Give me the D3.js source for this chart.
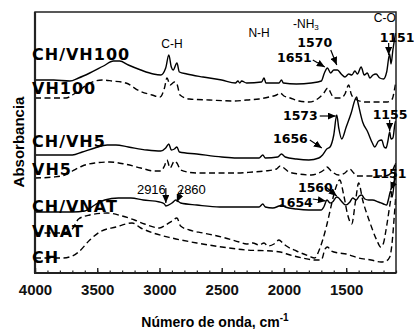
<!DOCTYPE html>
<html>
<head>
<meta charset="utf-8">
<script src="https://cdn.jsdelivr.net/npm/d3@7"></script>
<style>
  body { margin: 0; background: #fff; }
  svg { display: block; }
</style>
</head>
<body>
<svg width="414" height="329"></svg>
<script>
// wavenumber ticks (cm-1)
const majorTicks = [4000, 3500, 3000, 2500, 2000, 1500];
const minorTicks = d3.range(4000, 1099, -100);

const seriesNames = ['CH/VH100', 'VH100', 'CH/VH5', 'VH5', 'CH/VNAT', 'VNAT', 'CH'];
const seriesDashed = [false, true, false, true, false, true, true];

// spectra: [wavenumber, absorbance (arb. units, stacked)]
const chVh100 = [[4000,19.3],[3850,19.3],[3720,19.2],[3650,19.5],[3560,20.0],[3450,20.7],[3370,21.2],[3320,21.2],[3250,20.8],[3150,20.3],[3050,19.9],[2990,19.8],[2950,20.5],[2925,21.8],[2905,20.6],[2890,20.3],[2860,21.0],[2840,20.1],[2780,19.9],[2650,19.6],[2500,19.3],[2390,19.0],[2370,19.2],[2355,19.0],[2340,19.2],[2300,19.0],[2180,19.1],[2160,19.5],[2145,19.0],[2040,19.0],[2020,19.3],[2005,19.0],[1900,18.9],[1780,19.0],[1700,19.2],[1675,20.0],[1651,20.5],[1625,20.0],[1600,20.3],[1570,20.3],[1540,19.9],[1510,19.6],[1480,19.9],[1455,19.8],[1430,20.2],[1410,19.9],[1380,20.6],[1355,19.8],[1330,20.0],[1310,19.5],[1285,19.8],[1260,19.9],[1230,19.5],[1200,19.4],[1175,20.1],[1151,21.9],[1140,20.9],[1125,22.3],[1110,23.5],[1103,24.0]];
const vh100 = [[4000,17.5],[3750,17.5],[3700,17.8],[3640,18.3],[3560,19.0],[3460,19.3],[3380,19.2],[3270,19.0],[3160,18.2],[3060,17.8],[2995,17.6],[2960,18.5],[2940,19.5],[2915,18.8],[2880,19.1],[2860,18.9],[2835,17.8],[2760,17.4],[2600,17.3],[2400,17.2],[2300,17.3],[2200,17.4],[2120,17.6],[2060,17.8],[2030,18.0],[2000,17.7],[1950,17.5],[1880,17.2],[1800,17.1],[1720,17.5],[1680,18.0],[1648,18.5],[1620,17.9],[1600,17.5],[1540,17.5],[1510,17.9],[1480,18.8],[1460,17.9],[1440,17.5],[1350,17.1],[1250,17.1],[1170,17.1],[1130,17.4],[1110,18.5],[1103,19.0]];
const chVh5 = [[4000,11.8],[3800,11.8],[3700,11.8],[3620,12.1],[3520,12.5],[3420,12.8],[3350,12.8],[3250,12.6],[3100,12.3],[2990,12.2],[2950,12.5],[2925,12.9],[2905,12.3],[2880,12.4],[2860,12.6],[2840,12.1],[2700,11.9],[2500,11.6],[2380,11.5],[2200,11.5],[2170,11.8],[2150,11.5],[2050,11.6],[2020,11.9],[1990,11.6],[1900,11.4],[1800,11.3],[1720,11.5],[1690,11.8],[1656,12.4],[1630,12.6],[1600,13.8],[1576,15.8],[1560,14.5],[1536,13.4],[1500,14.6],[1460,16.0],[1430,17.3],[1416,17.6],[1405,17.0],[1368,15.1],[1327,14.1],[1290,13.0],[1271,12.6],[1240,13.2],[1215,13.3],[1195,12.6],[1180,12.5],[1165,13.2],[1151,14.1],[1140,13.4],[1125,13.5],[1110,14.8],[1103,15.2]];
const vh5 = [[4000,9.5],[3850,9.6],[3760,9.8],[3700,10.2],[3620,10.7],[3520,11.0],[3400,11.1],[3280,10.9],[3150,10.5],[3040,10.2],[2990,10.2],[2960,10.7],[2940,11.3],[2915,10.5],[2880,11.2],[2860,11.0],[2830,10.3],[2700,10.0],[2500,10.0],[2380,10.0],[2250,10.1],[2150,10.2],[2060,10.4],[2030,10.7],[2000,10.5],[1960,10.1],[1880,9.9],[1780,9.8],[1720,10.0],[1680,10.3],[1656,10.6],[1620,10.2],[1560,9.8],[1510,10.0],[1472,10.4],[1440,10.0],[1416,9.7],[1300,9.7],[1200,9.7],[1160,9.8],[1130,10.2],[1103,11.0]];
const chVnat = [[4000,6.1],[3700,6.1],[3600,6.2],[3520,6.8],[3440,7.3],[3330,7.5],[3230,7.5],[3130,7.3],[3000,7.1],[2960,6.9],[2949,6.7],[2900,7.0],[2868,7.3],[2830,7.0],[2700,6.8],[2515,6.6],[2355,6.6],[2200,6.6],[2170,6.9],[2150,6.6],[2090,6.5],[2040,6.7],[2018,6.8],[1990,6.6],[1900,6.4],[1800,6.3],[1700,6.3],[1680,6.6],[1654,7.3],[1630,7.0],[1610,7.1],[1576,7.6],[1560,7.5],[1540,7.2],[1504,6.8],[1470,7.1],[1448,7.5],[1420,7.3],[1395,7.7],[1376,7.8],[1350,7.4],[1320,7.3],[1290,7.3],[1240,7.1],[1200,6.9],[1175,6.8],[1160,7.4],[1143,8.2],[1130,7.6],[1115,9.0],[1103,11.0]];
const vnat = [[4000,4.0],[3800,4.0],[3740,4.1],[3700,4.4],[3650,5.4],[3560,5.8],[3420,6.0],[3300,5.7],[3200,5.3],[3120,4.9],[3000,4.5],[2950,4.8],[2900,5.2],[2860,5.5],[2830,4.7],[2760,4.3],[2650,4.0],[2500,3.6],[2360,3.1],[2300,2.9],[2250,3.0],[2200,2.8],[2160,3.0],[2130,2.7],[2080,2.9],[2040,3.3],[2010,3.0],[1980,2.7],[1900,2.2],[1800,1.7],[1753,1.5],[1720,2.2],[1689,3.3],[1660,4.6],[1632,6.1],[1600,7.8],[1576,8.8],[1552,9.3],[1520,7.8],[1488,5.8],[1456,4.9],[1424,7.3],[1400,9.0],[1368,7.3],[1311,5.1],[1255,3.3],[1223,2.6],[1200,3.0],[1183,4.1],[1143,7.3],[1103,10.3]];
const ch = [[4000,1.5],[3780,1.5],[3700,1.7],[3650,2.1],[3560,3.3],[3480,4.1],[3350,4.6],[3220,5.0],[3150,4.5],[3050,4.0],[2900,3.5],[2700,3.0],[2500,2.6],[2300,2.3],[2100,2.2],[2030,2.1],[1950,1.8],[1850,1.5],[1750,1.3],[1700,1.3],[1670,2.4],[1650,2.6],[1620,2.2],[1560,2.0],[1500,1.9],[1400,1.5],[1300,1.3],[1220,1.1],[1180,1.2],[1150,1.6],[1130,3.2],[1115,5.5],[1103,7.5]];

const seriesData = [chVh100, vh100, chVh5, vh5, chVnat, vnat, ch];

// peak annotations with arrows
const annoText = ['1651', '1570', '1151', '1573', '1656', '1155', '1151', '1560', '1654', '2916', '2860'];
const annoWn   = [1672, 1576, 1159, 1584, 1696, 1151, 1143, 1576, 1664, 2949, 2860];
const annoAbs  = [20.6, 20.8, 21.8, 15.7, 12.5, 14.2, 8.3, 7.7, 7.2, 7.0, 7.1];

// band labels
const bandText = ['C-H', 'N-H', 'C-O'];
const bandWn   = [2900, 2200, 1190];
const bandAbs  = [22.5, 23.6, 25.1];

const svg = d3.select('svg');
const mLeft = 35, mRight = 396, mTop = 12, mBottom = 273;

const x = d3.scaleLinear().domain([4000, 1100]).range([mLeft, mRight]);
const y = d3.scaleLinear().domain([0, 26.1]).range([mBottom, mTop]);

const line = d3.line()
  .x(d => x(d[0]))
  .y(d => y(d[1]))
  .curve(d3.curveMonotoneX);

// clip so spectra stay in the frame
svg.append('clipPath').attr('id', 'plot')
  .append('rect').attr('x', mLeft).attr('y', mTop)
  .attr('width', mRight - mLeft).attr('height', mBottom - mTop);

svg.append('g').attr('clip-path', 'url(#plot)')
  .selectAll('path')
  .data(seriesData)
  .join('path')
  .attr('d', line)
  .attr('fill', 'none')
  .attr('stroke', '#000')
  .attr('stroke-width', 1.4)
  .attr('stroke-dasharray', (d, i) => seriesDashed[i] ? '6,3.5' : null);

// frame
svg.append('rect')
  .attr('x', mLeft).attr('y', mTop)
  .attr('width', mRight - mLeft).attr('height', mBottom - mTop)
  .attr('fill', 'none').attr('stroke', '#222').attr('stroke-width', 1.5);
svg.append('line').attr('x1', mLeft).attr('x2', mLeft).attr('y1', mTop).attr('y2', mBottom)
  .attr('stroke', '#222').attr('stroke-width', 2.2);

// minor ticks
svg.append('g')
  .attr('transform', `translate(0,${mBottom})`)
  .call(d3.axisBottom(x).tickValues(minorTicks).tickSizeInner(-2.5).tickSizeOuter(0).tickFormat(''))
  .call(g => g.select('.domain').remove())
  .selectAll('line').attr('stroke', '#222').attr('stroke-width', 1.2);

// major ticks + labels
const xAxis = svg.append('g')
  .attr('transform', `translate(0,${mBottom})`)
  .call(d3.axisBottom(x).tickValues(majorTicks).tickSizeInner(-5).tickSizeOuter(0).tickPadding(11).tickFormat(d3.format('d')));
xAxis.select('.domain').remove();
xAxis.selectAll('line').attr('stroke', '#222').attr('stroke-width', 1.4);
xAxis.selectAll('text')
  .attr('fill', '#111')
  .style('font-family', '"Liberation Sans", Arial, sans-serif')
  .style('font-size', '15px')
  .style('font-weight', 'bold');

svg.append('line').attr('x1', mLeft - 1).attr('x2', mRight).attr('y1', mBottom).attr('y2', mBottom)
  .attr('stroke', '#222').attr('stroke-width', 2.2);

// axis titles
const xt = svg.append('text')
  .attr('x', 215).attr('y', 327)
  .attr('text-anchor', 'middle')
  .style('font-family', '"Liberation Sans", Arial, sans-serif')
  .style('font-size', '14px')
  .style('font-weight', 'bold')
  .text('Número de onda, cm');
xt.append('tspan').attr('dy', -6).style('font-size', '10px').text('-1');

svg.append('text')
  .attr('transform', 'translate(24,142) rotate(-90)')
  .attr('text-anchor', 'middle')
  .style('font-family', '"Liberation Sans", Arial, sans-serif')
  .style('font-size', '15px')
  .style('font-weight', 'bold')
  .text('Absorbancia');

// series labels at the left
const labelY = [60, 94, 147, 175, 212, 237, 263];
svg.append('g')
  .selectAll('text')
  .data(seriesNames)
  .join('text')
  .attr('x', 32)
  .attr('y', (d, i) => labelY[i])
  .style('font-family', '"DejaVu Sans", Verdana, sans-serif')
  .style('font-size', '16px')
  .style('font-weight', 'bold')
  .style('letter-spacing', '1px')
  .text(d => d);

// arrow marker
svg.append('defs').append('marker')
  .attr('id', 'arrow')
  .attr('markerUnits', 'userSpaceOnUse')
  .attr('markerWidth', 9).attr('markerHeight', 7)
  .attr('refX', 8).attr('refY', 3.5)
  .attr('orient', 'auto')
  .append('path').attr('d', 'M0,0L8,3.5L0,7Z').attr('fill', '#000');

// arrow start offset, text offset and anchor for each annotation
const annoLayout = [
  { sx: -12, sy: -7,  tx: -13, ty: -5,  anchor: 'end' },
  { sx: -6,  sy: -15, tx: -22, ty: -18, anchor: 'middle' },
  { sx: 0,   sy: -12, tx: -9,  ty: -13, anchor: 'start' },
  { sx: -16, sy: 0,   tx: -18, ty: 4,   anchor: 'end' },
  { sx: -12, sy: -8,  tx: -14, ty: -5,  anchor: 'end' },
  { sx: 0,   sy: -11, tx: -17, ty: -12, anchor: 'start' },
  { sx: 5,   sy: -12, tx: -19, ty: -12, anchor: 'start' },
  { sx: -12, sy: -10, tx: -4,  ty: -4,  anchor: 'end' },
  { sx: -13, sy: -2,  tx: -13, ty: 6,   anchor: 'end' },
  { sx: 0,   sy: -15, tx: 0,   ty: -9,  anchor: 'end' },
  { sx: 5,   sy: -12, tx: 0,   ty: -8,  anchor: 'start' }
];

const anno = svg.append('g');
annoText.forEach((t, i) => {
  const ex = x(annoWn[i]), ey = y(annoAbs[i]);
  const L = annoLayout[i];
  anno.append('line')
    .attr('x1', ex + L.sx).attr('y1', ey + L.sy)
    .attr('x2', ex).attr('y2', ey)
    .attr('stroke', '#000').attr('stroke-width', 1.2)
    .attr('marker-end', 'url(#arrow)');
  const small = i >= 9;
  anno.append('text')
    .attr('x', ex + L.tx).attr('y', ey + L.ty)
    .attr('text-anchor', L.anchor)
    .style('font-family', small ? '"Liberation Sans", Arial, sans-serif' : '"DejaVu Sans", Verdana, sans-serif')
    .style('font-size', small ? '13px' : '12.5px')
    .style('font-weight', small ? 'normal' : 'bold')
    .text(t);
});

// band labels
bandText.forEach((t, i) => {
  anno.append('text')
    .attr('x', x(bandWn[i])).attr('y', y(bandAbs[i]))
    .attr('text-anchor', 'middle')
    .style('font-family', '"Liberation Sans", Arial, sans-serif')
    .style('font-size', '12px')
    .text(t);
});

// -NH3 with subscript
const nh = anno.append('text')
  .attr('x', 293).attr('y', 28)
  .style('font-family', '"Liberation Sans", Arial, sans-serif')
  .style('font-size', '12px')
  .text('-NH');
nh.append('tspan').attr('dy', 2).style('font-size', '8px').text('3');
</script>
</body>
</html>
